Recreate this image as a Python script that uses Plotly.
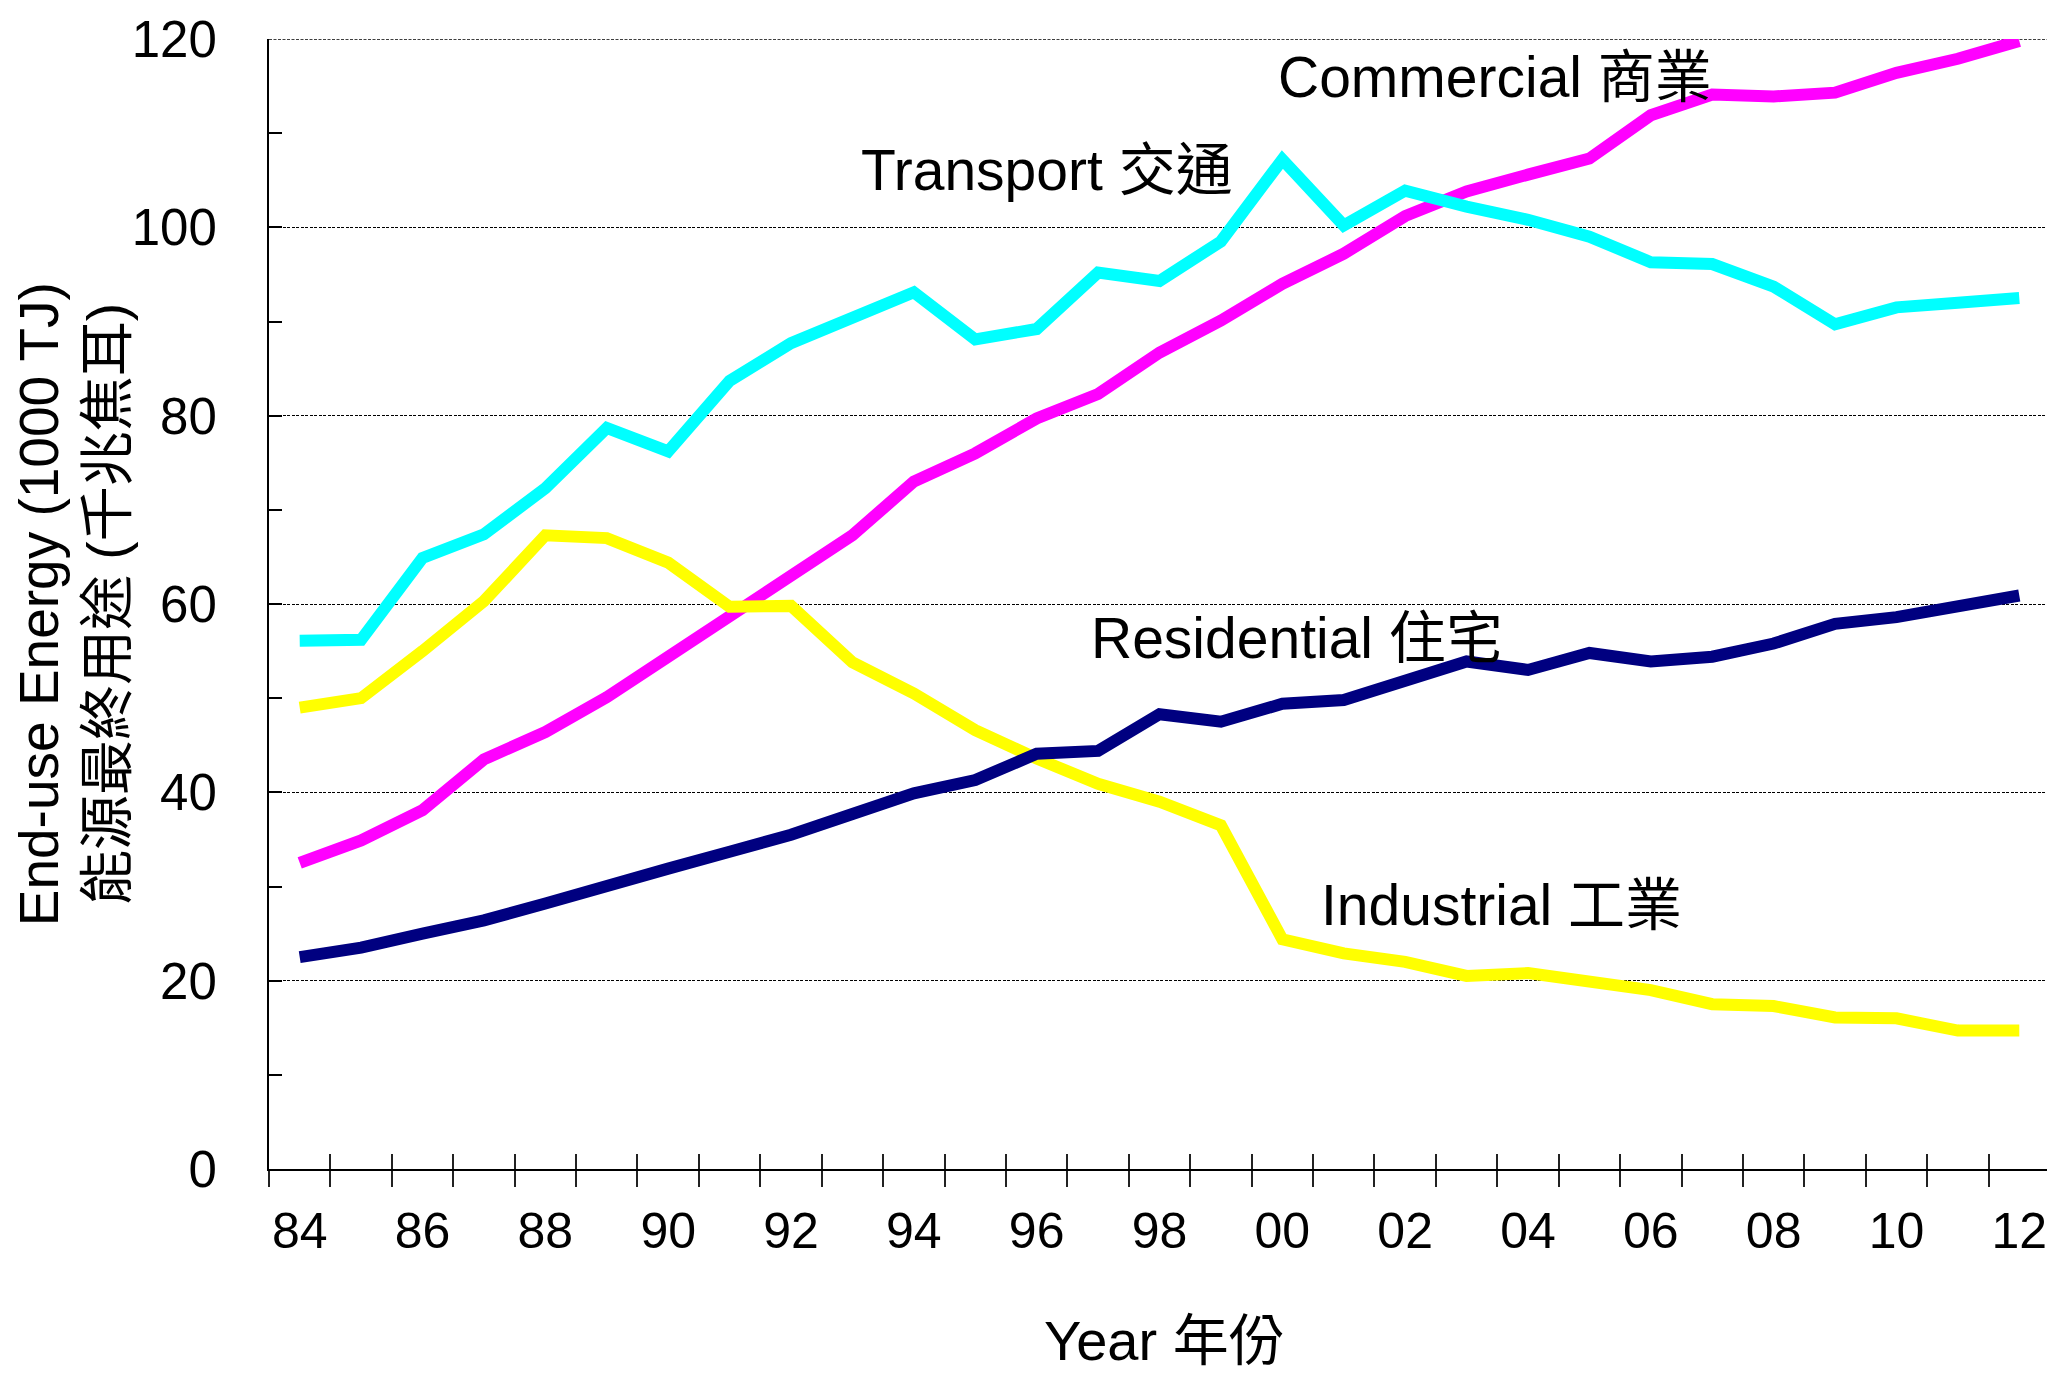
import plotly.graph_objects as go

# end-use energy in 1000 TJ
years = list(range(1984, 2013))
commercial = [32.5, 34.9, 38.1, 43.5, 46.4, 50.1, 54.4, 58.8, 63.2, 67.3,
              73.0, 76.0, 79.7, 82.3, 86.7, 90.1, 94.0, 97.2, 101.2, 103.8,
              105.6, 107.3, 111.9, 114.1, 113.9, 114.3, 116.4, 117.9, 119.8]
transport = [56.1, 56.2, 64.9, 67.4, 72.3, 78.7, 76.2, 83.7, 87.7, 90.5,
             93.1, 88.1, 89.2, 95.2, 94.3, 98.5, 107.2, 100.2, 103.9, 102.2,
             100.8, 99.0, 96.3, 96.1, 93.7, 89.7, 91.5, 92.0, 92.5]
industrial = [49.0, 50.0, 55.0, 60.3, 67.3, 67.0, 64.4, 59.7, 59.8, 53.8,
              50.5, 46.6, 43.6, 40.9, 39.0, 36.5, 24.4, 22.9, 22.0, 20.5,
              20.8, 19.9, 19.0, 17.5, 17.3, 16.1, 16.0, 14.7, 14.7]
residential = [22.5, 23.5, 25.0, 26.4, 28.2, 29.9, 31.9, 33.7, 35.5, 37.7,
               39.9, 41.3, 44.1, 44.4, 48.3, 47.5, 49.4, 49.8, 52.0, 53.9,
               53.0, 54.8, 53.9, 54.4, 55.8, 57.9, 58.6, 59.7, 60.9]

label_years = list(range(1984, 2013, 2))
year_labels = ["84", "86", "88", "90", "92", "94", "96", "98",
               "00", "02", "04", "06", "08", "10", "12"]
boundaries = [y - 0.5 for y in years] + [years[-1] + 0.5]
y_max = 120

FONT = "Liberation Sans, Arial, Noto Sans CJK TC, sans-serif"
GRID_DASH = "3px,1.5px"

series = [
    ("Commercial 商業", commercial, "#ff00ff", 1999.9, 116.0),
    ("Industrial 工業", industrial, "#ffff00", 2000.6, 28.0),
    ("Residential 住宅", residential, "#000080", 1996.85, 56.4),
    ("Transport 交通", transport, "#00ffff", 1993.1, 106.1),
]

fig = go.Figure()
for name, vals, col, lx, ly in series:
    fig.add_trace(go.Scatter(x=years, y=vals, mode="lines", name=name,
                             line=dict(color=col, width=12)))
    fig.add_annotation(x=lx, y=ly, xref="x", yref="y", text=name, showarrow=False,
                       xanchor="left", yanchor="middle",
                       font=dict(size=57, color="black", family=FONT))

# carrier trace for the overlay axis that draws the inward year ticks
fig.add_trace(go.Scatter(x=years, y=residential, xaxis="x2", mode="none",
                         hoverinfo="skip", showlegend=False))

# page body has an 8px margin, so the figure is 8px smaller than the window
fig.update_layout(
    width=2047, height=1370,
    margin=dict(l=261, r=3, t=24, b=209),
    plot_bgcolor="white", paper_bgcolor="white",
    showlegend=False,
    font=dict(family=FONT, color="black"),
    xaxis=dict(range=[1983.5, 2012.5], tickmode="array", tickvals=label_years,
               ticktext=year_labels, ticks="", showline=True, linecolor="black",
               linewidth=2, showgrid=False, zeroline=False, ticklabeloverflow="allow",
               tickfont=dict(size=50), ticklabelstandoff=17,
               minor=dict(tickmode="array", tickvals=boundaries, ticks="outside",
                          ticklen=16, tickwidth=1.5, tickcolor="#222", showgrid=False)),
    xaxis2=dict(overlaying="x", matches="x", anchor="y", side="bottom",
                tickmode="array", tickvals=boundaries, ticks="inside",
                ticklen=15, tickwidth=1.5, tickcolor="#222",
                showticklabels=False, showline=False, showgrid=False, zeroline=False),
    yaxis=dict(range=[0, y_max], tickmode="linear", tick0=0, dtick=20,
               ticks="inside", ticklen=13, tickwidth=1.5, tickcolor="black",
               showline=True, linecolor="black", linewidth=2, mirror=True,
               showgrid=True, gridcolor="black", griddash=GRID_DASH, gridwidth=1,
               zeroline=False, tickfont=dict(size=51), ticklabelstandoff=40,
               ticklabeloverflow="allow",
               minor=dict(tick0=0, dtick=10, ticks="inside", ticklen=13,
                          tickwidth=1.5, tickcolor="black", showgrid=False)),
)

# plotly drops the gridline at the range end; the top edge is that dashed line
fig.add_shape(type="line", xref="paper", yref="y", x0=0, x1=1, y0=y_max, y1=y_max,
              line=dict(color="black", width=1.5, dash=GRID_DASH), layer="below")

# axis titles
fig.add_annotation(x=-0.129, y=0.5, xref="paper", yref="paper",
                   text="End-use Energy (1000 TJ)", textangle=-90, showarrow=False,
                   xanchor="center", yanchor="middle", font=dict(size=55))
fig.add_annotation(x=-0.091, y=0.5, xref="paper", yref="paper",
                   text="能源最終用途 (千兆焦耳)", textangle=-90, showarrow=False,
                   xanchor="center", yanchor="middle", font=dict(size=55))
fig.add_annotation(x=0.503, y=-0.152, xref="paper", yref="paper",
                   text="Year 年份", showarrow=False,
                   xanchor="center", yanchor="middle", font=dict(size=56))

fig.write_html("out.html")
